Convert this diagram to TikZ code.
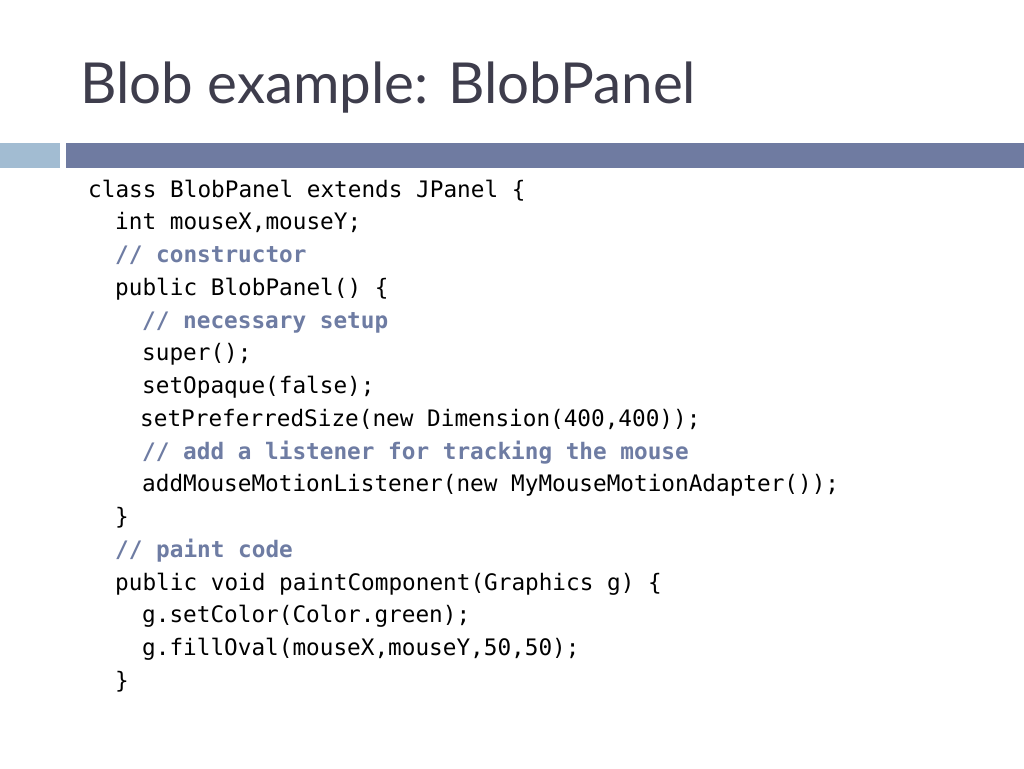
\documentclass[tikz,border=0pt]{standalone}
\usepackage{fontspec}
\setmainfont{Lato}
\newfontfamily\codefont{DejaVu Sans Mono}
\definecolor{titlecol}{HTML}{3E3D4C}
\definecolor{barlight}{HTML}{A2BCD2}
\definecolor{bardark}{HTML}{6F7BA1}
\definecolor{commentcol}{HTML}{6E7CA3}
\begin{document}
\begin{tikzpicture}[x=1pt,y=-1pt,
  code/.style={anchor=base west,inner sep=0pt,font=\codefont\fontsize{22.7}{22.7}\selectfont,text=black},
  comment/.style={code,text=commentcol,font=\codefont\bfseries\fontsize{22.7}{22.7}\selectfont},
  title/.style={anchor=base west,inner sep=0pt,font=\fontsize{56.5}{56.5}\selectfont,text=titlecol}]
\useasboundingbox[fill=white] (0,0) rectangle (1024,768);
\node[title] (t) at (80,103) {Blob example: BlobPanel};
\fill[barlight] (0,143) rectangle (60,168);
\fill[bardark] (66,143) rectangle (1024,168);
\def\la{88}\def\lb{115}\def\lc{142}
\node[code] (l1) at (\la,197) {class BlobPanel extends JPanel \{};
\node[code] (l2) at (\lb,229.75) {int mouseX,mouseY;};
\node[comment] (l3) at (\lb,262.5) {// constructor};
\node[code] (l4) at (\lb,295.25) {public BlobPanel() \{};
\node[comment] (l5) at (\lc,328) {// necessary setup};
\node[code] (l6) at (\lc,360.75) {super();};
\node[code] (l7) at (\lc,393.5) {setOpaque(false);};
\node[code] (l8) at (140,426.25) {setPreferredSize(new Dimension(400,400));};
\node[comment] (l9) at (\lc,459) {// add a listener for tracking the mouse};
\node[code] (l10) at (\lc,491.75) {addMouseMotionListener(new MyMouseMotionAdapter());};
\node[code] (l11) at (\lb,524.5) {\}};
\node[comment] (l12) at (\lb,557.25) {// paint code};
\node[code] (l13) at (\lb,590) {public void paintComponent(Graphics g) \{};
\node[code] (l14) at (\lc,622.75) {g.setColor(Color.green);};
\node[code] (l15) at (\lc,655.5) {g.fillOval(mouseX,mouseY,50,50);};
\node[code] (l16) at (\lb,688.25) {\}};
\end{tikzpicture}
\end{document}
